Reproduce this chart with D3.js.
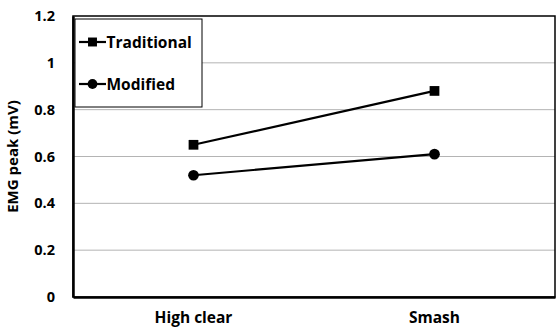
<!DOCTYPE html>
<html>
<head>
<meta charset="utf-8">
<script src="https://cdn.jsdelivr.net/npm/d3@7"></script>
<style>
  body { margin: 0; background: #fff; }
  text { font-family: "Open Sans", "Noto Sans", sans-serif; font-weight: bold; fill: #000; }
</style>
</head>
<body>
<div id="chart"></div>
<script>
// data
var categories = ["High clear", "Smash"];
var traditional = [0.65, 0.88];
var modified = [0.52, 0.61];
var yTicks = [0, 0.2, 0.4, 0.6, 0.8, 1, 1.2];

var W = 556, H = 332;
var margin = {top: 16, right: 1, bottom: 35, left: 73},
    width = W - margin.left - margin.right,
    height = H - margin.top - margin.bottom;

var svg = d3.select("#chart").append("svg")
    .attr("width", W).attr("height", H);

var g = svg.append("g")
    .attr("transform", "translate(" + margin.left + "," + margin.top + ")");

var x = d3.scaleBand().domain(categories).range([0, width]);
var y = d3.scaleLinear().domain([0, 1.2]).range([height, 0]);

// gridlines
g.append("g").selectAll("line")
  .data(yTicks.filter(d => d > 0 && d < 1.2))
  .join("line")
    .attr("x1", 0).attr("x2", width)
    .attr("y1", d => y(d)).attr("y2", d => y(d))
    .attr("stroke", "#b4b4b4").attr("stroke-width", 1);

// plot frame
g.append("rect")
    .attr("x", 0).attr("y", 0)
    .attr("width", width).attr("height", height)
    .attr("fill", "none").attr("stroke", "#000").attr("stroke-width", 1.5);

// y axis
var yAxis = g.append("g")
    .call(d3.axisLeft(y).tickValues(yTicks).tickSize(0).tickPadding(18)
      .tickFormat(d => d3.format("")(+d.toFixed(1))));
yAxis.select(".domain").attr("stroke", "#000").attr("stroke-width", 2.5);
yAxis.selectAll("text").style("font-size", "14.5px");

// x axis
var xAxis = g.append("g")
    .attr("transform", "translate(0," + height + ")")
    .call(d3.axisBottom(x).tickSize(0).tickPadding(15));
xAxis.select(".domain").attr("stroke", "#000").attr("stroke-width", 2.5);
xAxis.selectAll("text").style("font-size", "15.5px");

// y title
svg.append("text")
    .attr("transform", "translate(14," + (margin.top + height / 2) + ") rotate(-90)")
    .attr("text-anchor", "middle")
    .attr("dominant-baseline", "middle")
    .style("font-size", "15px")
    .text("EMG peak (mV)");

var line = d3.line()
    .x((d, i) => x(categories[i]) + x.bandwidth() / 2)
    .y(d => y(d));

function drawSeries(vals, shape) {
  g.append("path")
    .datum(vals)
    .attr("d", line)
    .attr("fill", "none").attr("stroke", "#000").attr("stroke-width", 2.2);
  g.append("g").selectAll("path")
    .data(vals)
    .join("path")
      .attr("transform", (d, i) => "translate(" + (x(categories[i]) + x.bandwidth() / 2) + "," + y(d) + ")")
      .attr("d", d3.symbol().type(shape).size(shape === d3.symbolSquare ? 95 : 90))
      .attr("fill", "#000");
}
drawSeries(traditional, d3.symbolSquare);
drawSeries(modified, d3.symbolCircle);

// legend
var legend = svg.append("g").attr("transform", "translate(75,19)");
legend.append("rect")
    .attr("x", 0).attr("y", 0).attr("width", 127).attr("height", 88)
    .attr("fill", "#fff").attr("stroke", "#000").attr("stroke-width", 1);

var legendItems = [
  {name: "Traditional", shape: d3.symbolSquare, y: 23},
  {name: "Modified", shape: d3.symbolCircle, y: 65}
];
legendItems.forEach(function(it) {
  legend.append("line")
    .attr("x1", 4).attr("x2", 31).attr("y1", it.y).attr("y2", it.y)
    .attr("stroke", "#000").attr("stroke-width", 2.2);
  legend.append("path")
    .attr("transform", "translate(17.5," + it.y + ")")
    .attr("d", d3.symbol().type(it.shape).size(it.shape === d3.symbolSquare ? 80 : 75))
    .attr("fill", "#000");
  legend.append("text")
    .attr("x", 31.5).attr("y", it.y)
    .attr("dominant-baseline", "central")
    .style("font-size", "15.5px")
    .text(it.name);
});
</script>
</body>
</html>
